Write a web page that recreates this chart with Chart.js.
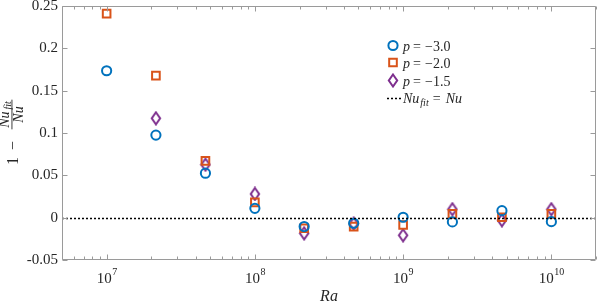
<!DOCTYPE html>
<html>
<head>
<meta charset="utf-8">
<script src="https://cdn.jsdelivr.net/npm/chart.js@4.4.1/dist/chart.umd.min.js"></script>
<style>
	html, body { margin: 0; padding: 0; background: #fff; }
	#c { display: block; }
</style>
</head>
<body>
<canvas id="c" width="598" height="303"></canvas>
<script>
// Rayleigh numbers of the runs
const RA = [1e7, 2.15e7, 4.64e7, 1e8, 2.15e8, 4.64e8, 1e9, 2.15e9, 4.64e9, 1e10];
// 1 - Nu_fit/Nu for each exponent p
const P_30 = [0.1735, 0.0975, 0.0525, 0.011, -0.0105, -0.0066, 0.0005, -0.005, 0.0083, -0.0047];
const P_20 = [0.241, 0.1678, 0.067, 0.018, -0.0125, -0.0106, -0.0087, 0.0044, 0.0005, 0.0044];
const P_15 = [null, 0.1174, 0.0626, 0.028, -0.0185, -0.0072, -0.0208, 0.010, -0.003, 0.010];
const LABELS = ["\u22123.0", "\u22122.0", "\u22121.5"];

const X_MIN = 5e6, X_MAX = 2e10;
const X_EXP = [7, 8, 9, 10];
const Y_TICKS = [-0.05, 0, 0.05, 0.1, 0.15, 0.2, 0.25];

const BLUE = "#0072BD", ORANGE = "#D95319", PURPLE = "#7E2F8E";
const AXIS = "#9a9a9a", TXT = "#262626";
const SERIF = "'Liberation Serif', 'DejaVu Serif', serif";

function pts(ys) {
	return RA.map((x, i) => ({ x: x, y: ys[i] })).filter(p => p.y !== null);
}

// tall diamond like matlab's 'd' marker
function diamond() {
	let cv = document.createElement("canvas");
	cv.width = 12; cv.height = 15;
	let c = cv.getContext("2d");
	c.strokeStyle = PURPLE;
	c.lineWidth = 2;
	c.beginPath();
	c.moveTo(6, 1.5);
	c.lineTo(10.2, 7.5);
	c.lineTo(6, 13.5);
	c.lineTo(1.8, 7.5);
	c.closePath();
	c.stroke();
	return cv;
}

function noPad(s) {
	s.paddingTop = 0; s.paddingBottom = 0;
	s.paddingLeft = 0; s.paddingRight = 0;
}

const deco = {
	id: "deco",
	afterDatasetsDraw(chart) {
		let { ctx, chartArea: a, scales: { y } } = chart;
		// zero line
		let y0 = Math.round(y.getPixelForValue(0)) + 0.5;
		ctx.save();
		ctx.strokeStyle = "#000";
		ctx.lineWidth = 1.6;
		ctx.setLineDash([2, 2]);
		ctx.beginPath();
		ctx.moveTo(a.left, y0);
		ctx.lineTo(a.right, y0);
		ctx.stroke();
		ctx.restore();
	},
	afterDraw(chart) {
		let { ctx, chartArea: a, scales: { x, y } } = chart;
		ctx.save();
		ctx.strokeStyle = AXIS;
		ctx.lineWidth = 1;
		let L = Math.round(a.left) + 0.5, R = Math.round(a.right) - 0.5;
		let T = Math.round(a.top) + 0.5, B = Math.round(a.bottom) - 0.5;
		ctx.beginPath();
		ctx.rect(L, T, R - L, B - T);
		Y_TICKS.forEach(v => {
			let py = Math.round(y.getPixelForValue(v)) + 0.5;
			ctx.moveTo(L, py); ctx.lineTo(L + 5, py);
			ctx.moveTo(R, py); ctx.lineTo(R - 5, py);
		});
		for (let d = 6; d <= 10; d++) {
			for (let m = 1; m <= 9; m++) {
				let v = m * Math.pow(10, d);
				if (v < X_MIN || v > X_MAX) continue;
				let len = m === 1 ? 5 : 3;
				let px = Math.round(x.getPixelForValue(v)) + 0.5;
				ctx.moveTo(px, B); ctx.lineTo(px, B - len);
				ctx.moveTo(px, T); ctx.lineTo(px, T + len);
			}
		}
		ctx.stroke();

		// x tick labels 10^n
		ctx.fillStyle = TXT;
		ctx.textBaseline = "alphabetic";
		ctx.textAlign = "left";
		X_EXP.forEach(e => {
			let px = x.getPixelForValue(Math.pow(10, e));
			ctx.font = "15px " + SERIF;
			let w1 = ctx.measureText("10").width;
			ctx.font = "10px " + SERIF;
			let w2 = ctx.measureText(String(e)).width;
			let sx = px - (w1 + w2) / 2;
			ctx.font = "15px " + SERIF;
			ctx.fillText("10", sx, 283);
			ctx.font = "10px " + SERIF;
			ctx.fillText(String(e), sx + w1 + 0.5, 275);
		});

		// x title
		ctx.font = "italic 16px " + SERIF;
		ctx.textAlign = "center";
		ctx.fillText("Ra", (a.left + a.right) / 2, 301);

		// y title: 1 - Nu_fit / Nu
		ctx.save();
		ctx.translate(13, 130);
		ctx.rotate(-Math.PI / 2);
		ctx.textAlign = "left";
		ctx.font = "16px " + SERIF;
		ctx.fillText("1", -35, 5);
		ctx.fillText("\u2212", -20, 5);
		ctx.font = "italic 14px " + SERIF;
		let wNu = ctx.measureText("Nu").width;
		ctx.font = "italic 10px " + SERIF;
		let wFit = ctx.measureText("fit").width;
		let cx = 15.5;
		let num = wNu + wFit + 2;
		ctx.font = "italic 14px " + SERIF;
		ctx.fillText("Nu", cx - num / 2, -4);
		ctx.fillText("Nu", cx - wNu / 2, 10);
		ctx.font = "italic 10px " + SERIF;
		ctx.fillText("fit", cx - num / 2 + wNu + 2, -2);
		ctx.fillRect(cx - num / 2 - 1.5, -1.5, num + 3, 0.9);
		ctx.restore();

		// legend
		let lx = 393, ly = [45.5, 62.5, 80.5];
		chart.data.datasets.forEach((ds, i) => {
			ctx.strokeStyle = ds.borderColor;
			ctx.fillStyle = "transparent";
			ctx.lineWidth = ds.pointBorderWidth;
			Chart.helpers.drawPoint(ctx, {
				pointStyle: ds.pointStyle,
				radius: ds.pointRadius,
				rotation: 0,
				borderWidth: ds.pointBorderWidth
			}, lx, ly[i]);
			ctx.fillStyle = TXT;
			ctx.textAlign = "left";
			ctx.font = "italic 14px " + SERIF;
			ctx.fillText("p", 403, ly[i] + 5);
			ctx.font = "14px " + SERIF;
			ctx.fillText("=", 413, ly[i] + 5);
			ctx.fillText(LABELS[i], 425, ly[i] + 5);
		});
		let yl = 98;
		ctx.strokeStyle = "#000";
		ctx.lineWidth = 1.6;
		ctx.setLineDash([2, 2]);
		ctx.beginPath();
		ctx.moveTo(387, yl + 0.5);
		ctx.lineTo(401, yl + 0.5);
		ctx.stroke();
		ctx.setLineDash([]);
		ctx.fillStyle = TXT;
		ctx.font = "italic 14px " + SERIF;
		let wN = ctx.measureText("Nu").width;
		ctx.fillText("Nu", 403, yl + 5);
		ctx.font = "italic 10px " + SERIF;
		let wF = ctx.measureText("fit").width;
		ctx.fillText("fit", 403 + wN + 1, yl + 8);
		let ex = 403 + wN + wF + 5;
		ctx.font = "14px " + SERIF;
		ctx.fillText("=", ex, yl + 5);
		ctx.font = "italic 14px " + SERIF;
		ctx.fillText("Nu", ex + 13, yl + 5);
		ctx.restore();
	}
};

function createChart() {
	let ctx = document.getElementById("c");
	let data = {
		datasets: [{
			label: "p = -3.0",
			data: pts(P_30),
			pointStyle: "circle",
			pointRadius: 4.6,
			pointBorderWidth: 2,
			borderColor: BLUE,
			backgroundColor: "transparent"
		}, {
			label: "p = -2.0",
			data: pts(P_20),
			pointStyle: "rect",
			pointRadius: 5.4,
			pointBorderWidth: 2,
			borderColor: ORANGE,
			backgroundColor: "transparent"
		}, {
			label: "p = -1.5",
			data: pts(P_15),
			pointStyle: diamond(),
			pointRadius: 6,
			pointBorderWidth: 2,
			borderColor: PURPLE,
			backgroundColor: "transparent"
		}]
	};
	let options = {
		responsive: false,
		animation: false,
		devicePixelRatio: 1,
		layout: { autoPadding: false, padding: { top: 6, right: 2, left: 0, bottom: 0 } },
		plugins: {
			legend: { display: false },
			tooltip: { enabled: false }
		},
		scales: {
			x: {
				type: "logarithmic",
				min: X_MIN,
				max: X_MAX,
				grid: { display: false },
				border: { display: false },
				ticks: { display: false },
				afterFit: s => { s.height = 43; noPad(s); }
			},
			y: {
				min: -0.05,
				max: 0.25,
				grid: { display: false, drawTicks: false },
				border: { display: false },
				afterBuildTicks: s => { s.ticks = Y_TICKS.map(v => ({ value: v })); },
				ticks: {
					padding: 4,
					color: TXT,
					font: { family: SERIF, size: 15 },
					callback: v => String(Math.round(v * 100) / 100)
				},
				afterFit: s => { s.width = 62; noPad(s); }
			}
		}
	};
	return new Chart(ctx, {
		type: "scatter",
		data: data,
		options: options,
		plugins: [deco]
	});
}

window.chart = createChart();
</script>
</body>
</html>
